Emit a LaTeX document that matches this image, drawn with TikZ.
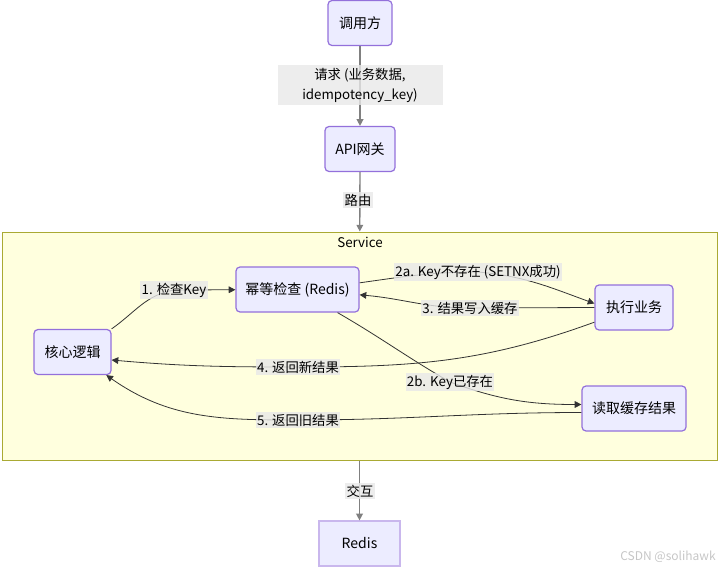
\documentclass[tikz,border=0pt]{standalone}
\usepackage{fontspec}
\setmainfont{Noto Sans CJK SC}
\usetikzlibrary{arrows.meta}

\definecolor{boxfill}{HTML}{ECECFF}
\definecolor{boxline}{HTML}{9370DB}
\definecolor{svcfill}{HTML}{FFFFDE}
\definecolor{svcline}{HTML}{AAAA33}
\definecolor{lblfill}{HTML}{E8E8E8}
\definecolor{edgeline}{HTML}{333333}

\tikzset{
  box/.style={draw=boxline, fill=boxfill, line width=0.9pt, rounded corners=3pt,
    minimum height=33.75pt, inner sep=0pt, font=\fontsize{10.5}{15}\selectfont},
  lbl/.style={fill=lblfill, fill opacity=0.8, text opacity=1, inner xsep=1pt,
    inner ysep=1.5pt, align=center, font=\fontsize{10}{15}\selectfont},
  flow/.style={draw=edgeline, line width=0.6pt, -{Triangle[length=5pt,width=5pt]}},
  mainflow/.style={flow, draw=gray, line width=1pt},
}

\begin{document}
\begin{tikzpicture}[x=0.75pt,y=-0.75pt]
    \useasboundingbox (0,0) rectangle (723,570);

    % Service cluster
    \node[draw=svcline, fill=svcfill, line width=0.75pt, minimum width=536.25pt,
      minimum height=171pt, inner sep=0pt] (svc) at (359.5,346) {};
    \node[font=\fontsize{10}{12}\selectfont] (svctitle) at (360,242) {Service};

    % Boxes
    \node[box, minimum width=48pt] (caller) at (360,23) {调用方};
    \node[box, minimum width=52.5pt] (api) at (360,149) {API网关};
    \node[box, minimum width=57.75pt] (core) at (72.5,352) {核心逻辑};
    \node[box, minimum width=92.25pt] (check) at (297.5,289.5) {幂等检查 (Redis)};
    \node[box, minimum width=58.5pt] (exec) at (634,307.5) {执行业务};
    \node[box, minimum width=78pt] (read) at (634,408.5) {读取缓存结果};
    \node[box, rounded corners=0pt, draw=boxline!50, minimum width=60.75pt] (redis) at (359.5,543.5) {Redis};

    % Label spots
    \coordinate (lreq) at (360,85);
    \coordinate (lroute) at (358,200);
    \coordinate (lio) at (360,491);
    \coordinate (l1) at (174,290);
    \coordinate (l2a) at (478,272);
    \coordinate (l3) at (470,308);
    \coordinate (l4) at (298,367);
    \coordinate (l2b) at (450,382);
    \coordinate (l5) at (298,420);

    % Outer flow
    \draw[mainflow] (caller) -- (api);
    \draw[mainflow] (api) -- (svc);
    \draw[mainflow] (svc) -- (redis);

    % Inner flow
    \draw[flow] (core.north east) to[out=35,in=190] (l1) -- (check);
    \draw[flow] ([yshift=5pt]check.east) to[out=8,in=180] (l2a) to[out=-5,in=160] ([yshift=3pt]exec.west);
    \draw[flow] (exec.west) -- (l3) to[out=180,in=-5] ([yshift=-4pt]check.east);
    \draw[flow] ([yshift=-11pt]exec.west) to[out=200,in=0] (l4) to[out=180,in=-5] ([yshift=-6pt]core.east);
    \draw[flow] (check.-30) to[out=-30,in=150] (l2b) to[out=-20,in=180] ([yshift=3pt]read.west);
    \draw[flow] ([yshift=-3pt]read.west) to[out=180,in=0] (l5) to[out=180,in=-35] ([xshift=-4pt]core.south east);

    % Edge labels
    \node[lbl, minimum width=123.75pt, minimum height=30pt] (lreq-text) at (lreq) {请求 (业务数据,\\idempotency\_key)};
    \foreach \n/\t in {lroute/路由, lio/交互,
        l1/{1. 检查Key}, l2a/{2a. Key不存在 (SETNX成功)}, l3/{3. 结果写入缓存},
        l4/{4. 返回新结果}, l2b/{2b. Key已存在}, l5/{5. 返回旧结果}} {
        \node[lbl] (\n-text) at (\n) {\t};
    }

    \node[text=gray!45, font=\fontsize{9}{11}\selectfont] (mark) at (668,557) {CSDN @solihawk};
\end{tikzpicture}
\end{document}
